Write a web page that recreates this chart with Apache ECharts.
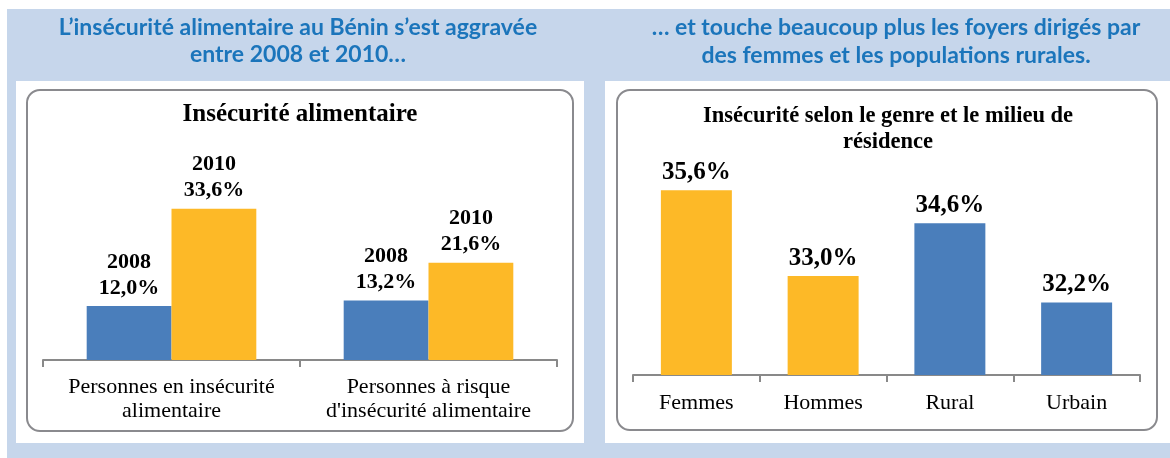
<!DOCTYPE html>
<html>
<head>
<meta charset="utf-8">
<script src="https://cdn.jsdelivr.net/npm/echarts@6/dist/echarts.min.js"></script>
<style>
  html, body { margin: 0; padding: 0; background: #fff; }
  #chart { width: 1170px; height: 458px; }
</style>
</head>
<body>
<div id="chart"></div>
<script>
// left chart: food insecurity 2008 vs 2010
var leftCategories = ['Personnes en insécurité\nalimentaire', "Personnes à risque\nd'insécurité alimentaire"];
var years = ['2008', '2010'];
var values2008 = [12.0, 13.2];
var values2010 = [33.6, 21.6];

// right chart: by gender and area
var rightCategories = ['Femmes', 'Hommes', 'Rural', 'Urbain'];
var rightValues = [35.6, 33.0, 34.6, 32.2];
var rightGroups = ['genre', 'genre', 'milieu', 'milieu'];

var BLUE = '#4a7ebb';
var ORANGE = '#fdb927';
var HEAD = '#1b75bb';
var SERIF = '"Liberation Serif", "Times New Roman", serif';
var SANS = 'Lato, sans-serif';

function pct(v) {
    return v.toFixed(1).replace('.', ',') + '%';
}

var chart = echarts.init(document.getElementById('chart'));

var axisStyle = {
    axisLine: { lineStyle: { color: '#898989', width: 2 } },
    axisTick: { show: true, alignWithLabel: false, length: 7, lineStyle: { color: '#898989', width: 2 } }
};

chart.setOption({
    animation: false,
    graphic: [
        { type: 'rect', z: -10, shape: { x: 7, y: 9, width: 1163, height: 449 }, style: { fill: '#c6d6eb' } },
        { type: 'rect', z: -9, shape: { x: 16, y: 81, width: 568, height: 362 }, style: { fill: '#fff' } },
        { type: 'rect', z: -9, shape: { x: 605, y: 81, width: 565, height: 362 }, style: { fill: '#fff' } },
        { type: 'rect', z: -8, shape: { x: 27, y: 90, width: 546, height: 341, r: 13 },
          style: { fill: 'none', stroke: '#8a8a8e', lineWidth: 2 } },
        { type: 'rect', z: -8, shape: { x: 617, y: 90, width: 540, height: 340, r: 13 },
          style: { fill: 'none', stroke: '#8a8a8e', lineWidth: 2 } },
        { type: 'text', x: 298, y: 14, style: { text: 'L’insécurité alimentaire au Bénin s’est aggravée\nentre 2008 et 2010…',
          fill: HEAD, font: 'bold 23px ' + SANS, align: 'center', lineHeight: 27 } },
        { type: 'text', x: 896, y: 14, style: { text: '… et touche beaucoup plus les foyers dirigés par\ndes femmes et les populations rurales.',
          fill: HEAD, font: 'bold 23px ' + SANS, align: 'center', lineHeight: 28 } },
        { type: 'text', x: 300, y: 102, style: { text: 'Insécurité alimentaire',
          fill: '#000', font: 'bold 25px ' + SERIF, align: 'center' } },
        { type: 'text', x: 888, y: 103, style: { text: 'Insécurité selon le genre et le milieu de\nrésidence',
          fill: '#000', font: 'bold 22.5px ' + SERIF, align: 'center', lineHeight: 26 } }
    ],
    grid: [
        { left: 43, top: 180, width: 514, height: 180 },
        { left: 633, top: 177, width: 507, height: 198 }
    ],
    xAxis: [
        Object.assign({
            type: 'category', gridIndex: 0, data: leftCategories,
            axisLabel: { interval: 0, margin: 15, color: '#000', fontFamily: SERIF, fontSize: 22, lineHeight: 24 }
        }, axisStyle),
        Object.assign({
            type: 'category', gridIndex: 1, data: rightCategories,
            axisLabel: { interval: 0, margin: 17, color: '#000', fontFamily: SERIF, fontSize: 22 }
        }, axisStyle)
    ],
    yAxis: [
        { type: 'value', gridIndex: 0, min: 0, max: 40, show: false, splitLine: { show: false } },
        { type: 'value', gridIndex: 1, min: 30, max: 36, show: false, splitLine: { show: false } }
    ],
    series: [
        {
            type: 'bar', name: years[0], xAxisIndex: 0, yAxisIndex: 0, data: values2008,
            barGap: '0%', barCategoryGap: '34%', itemStyle: { color: BLUE },
            label: { show: true, position: 'top', distance: 5, color: '#000', fontFamily: SERIF,
                fontWeight: 'bold', fontSize: 22, lineHeight: 26,
                formatter: function (p) { return p.seriesName + '\n' + pct(p.value); } }
        },
        {
            type: 'bar', name: years[1], xAxisIndex: 0, yAxisIndex: 0, data: values2010,
            barGap: '0%', barCategoryGap: '34%', itemStyle: { color: ORANGE },
            label: { show: true, position: 'top', distance: 5, color: '#000', fontFamily: SERIF,
                fontWeight: 'bold', fontSize: 22, lineHeight: 26,
                formatter: function (p) { return p.seriesName + '\n' + pct(p.value); } }
        },
        {
            type: 'bar', xAxisIndex: 1, yAxisIndex: 1,
            data: rightValues.map(function (v, i) {
                return { value: v, itemStyle: { color: rightGroups[i] === 'genre' ? ORANGE : BLUE } };
            }),
            barWidth: '56%',
            label: { show: true, position: 'top', distance: 5, color: '#000', fontFamily: SERIF,
                fontWeight: 'bold', fontSize: 25,
                formatter: function (p) { return pct(p.value); } }
        }
    ]
});

window.addEventListener('resize', function () {
    chart.resize();
});
</script>
</body>
</html>
